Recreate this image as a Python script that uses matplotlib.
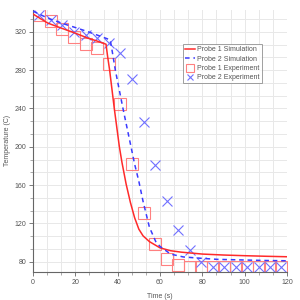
import matplotlib
matplotlib.use("Agg")
import matplotlib.pyplot as plt
from matplotlib.ticker import MultipleLocator, AutoMinorLocator

plt.rcParams['font.family'] = ['Liberation Sans', 'DejaVu Sans']

# simulation curves
sim1_t = [0, 7, 13.5, 20, 26, 30, 34.5, 35.2, 36.2, 37.3, 38.4, 39.6, 40.8, 42, 44, 46, 48, 50, 52, 55, 60, 65, 70, 80, 90, 100, 110, 120]
sim1_y = [338.5, 329, 323.7, 318.5, 313.3, 310.5, 307, 295, 280, 260, 240, 220, 200, 184, 161, 142, 126, 114, 107, 101, 94.5, 91.5, 90, 88, 87, 86.3, 85.7, 85.2]
sim2_t = [0, 7, 13.5, 20, 26, 31, 36.5, 37.7, 38.9, 40.7, 42.5, 44.4, 46.3, 48, 50, 52, 55, 58, 60, 65, 71, 80, 87, 100, 110, 120]
sim2_y = [341.5, 334.2, 329, 324.4, 320, 316, 311.5, 296, 280, 260, 240, 220, 200, 182, 164, 143, 116, 101, 96, 88, 85, 83.5, 82.5, 81.8, 81.3, 81]

# experiment samples
exp_t = [2.9, 8.4, 13.9, 19.4, 24.9, 30.4, 35.8, 41.3, 46.8, 52.3, 57.8, 63.2, 68.6, 74.1, 79.5, 85.0, 90.4, 95.9, 101.3, 106.8, 112.2, 117.4]
exp1_y = [337, 331.7, 322.7, 315, 307, 302.9, 286, 244.4, 182, 130.5, 99, 82.7, 76.5, 74, 74, 74, 74, 74, 74.3, 74, 74.5, 74]
exp2_y = [337.7, 332.4, 327.2, 320.2, 316.8, 314, 308, 297.6, 270.8, 226, 181, 143.4, 113, 92.2, 80, 74.8, 74.5, 74.5, 74.5, 74.5, 74.5, 74.5]

labels = ["Probe 1 Simulation", "Probe 2 Simulation", "Probe 1 Experiment", "Probe 2 Experiment"]

fig = plt.figure(figsize=(3, 3), dpi=100)
ax = fig.add_axes([33 / 300, 28.3 / 300, 254 / 300, 261.7 / 300])

ax.plot(sim1_t, sim1_y, color="#ff2a2a", lw=1.1, label=labels[0], zorder=3)
ax.plot(sim2_t, sim2_y, color="#3a3aff", lw=1.1, ls=(0, (3, 2.5)), label=labels[1], zorder=3)
ax.plot(exp_t, exp1_y, ls="none", marker="s", ms=9, mfc="none", mec="#ff8080", mew=0.8,
        label=labels[2], zorder=2)
ax.plot(exp_t, exp2_y, ls="none", marker="x", ms=7, mec="#7070ff", mew=0.8,
        label=labels[3], zorder=2)

ax.set_xlim(0, 120)
ax.set_ylim(69.6, 342.7)
ax.xaxis.set_major_locator(MultipleLocator(20))
ax.yaxis.set_major_locator(MultipleLocator(40))
ax.xaxis.set_minor_locator(AutoMinorLocator(3))
ax.yaxis.set_minor_locator(AutoMinorLocator(3))
ax.grid(True, which="both", color="#e8e8e8", lw=0.7)
ax.set_axisbelow(True)

for s in ["top", "right"]:
    ax.spines[s].set_visible(False)
for s in ["left", "bottom"]:
    ax.spines[s].set_color("#666666")
    ax.spines[s].set_linewidth(0.8)
ax.tick_params(which="major", length=3, width=0.6, color="#666666", labelsize=5, labelcolor="#555555", pad=2)
ax.tick_params(which="minor", length=2, width=0.5, color="#888888")

ax.set_xlabel("Time (s)", fontsize=5, color="#555555", labelpad=5)
ax.set_ylabel("Temperature (C)", fontsize=5, color="#555555", labelpad=2)

leg = ax.legend(loc="upper right", bbox_to_anchor=(0.90, 0.87), fontsize=5, frameon=True,
                fancybox=False, edgecolor="#888888", handlelength=1.4, handletextpad=0.3,
                borderpad=0.3, labelspacing=0.35, borderaxespad=0, markerscale=0.6)
leg.get_frame().set_linewidth(0.7)
for t in leg.get_texts():
    t.set_color("#555555")

fig.savefig("out.png", dpi=100)
